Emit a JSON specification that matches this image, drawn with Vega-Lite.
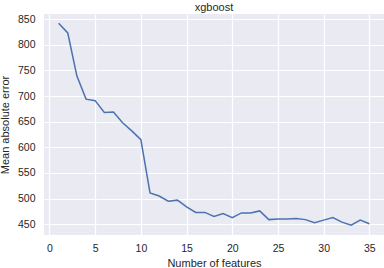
{
  "$schema": "https://vega.github.io/schema/vega-lite/v6.json",
  "width": 340,
  "height": 221,
  "autosize": {"type": "none"},
  "padding": {"left": 44, "top": 14, "right": 0, "bottom": 33},
  "background": "white",
  "title": {"text": "xgboost", "fontSize": 11, "fontWeight": "normal", "font": "Liberation Sans", "color": "#262626", "offset": 1},
  "config": {
    "view": {"fill": "#EAEAF2", "stroke": null},
    "axis": {
      "domain": false, "ticks": false, "gridColor": "white", "gridWidth": 1.2, "gridOpacity": 1,
      "labelFont": "Liberation Sans", "labelFontSize": 10.5, "labelColor": "#262626",
      "titleFont": "Liberation Sans", "titleFontSize": 11, "titleFontWeight": "normal", "titleColor": "#262626"
    }
  },
  "data": {"values": [
    {"n": 1, "mae": 842}, {"n": 2, "mae": 823}, {"n": 3, "mae": 739}, {"n": 4, "mae": 694},
    {"n": 5, "mae": 691}, {"n": 6, "mae": 668}, {"n": 7, "mae": 669}, {"n": 8, "mae": 648},
    {"n": 9, "mae": 632}, {"n": 10, "mae": 615}, {"n": 11, "mae": 511}, {"n": 12, "mae": 505},
    {"n": 13, "mae": 495}, {"n": 14, "mae": 497}, {"n": 15, "mae": 484}, {"n": 16, "mae": 473},
    {"n": 17, "mae": 473}, {"n": 18, "mae": 465}, {"n": 19, "mae": 471}, {"n": 20, "mae": 463},
    {"n": 21, "mae": 472}, {"n": 22, "mae": 472}, {"n": 23, "mae": 476}, {"n": 24, "mae": 459},
    {"n": 25, "mae": 460}, {"n": 26, "mae": 460}, {"n": 27, "mae": 461}, {"n": 28, "mae": 459},
    {"n": 29, "mae": 453}, {"n": 30, "mae": 458}, {"n": 31, "mae": 463}, {"n": 32, "mae": 454},
    {"n": 33, "mae": 448}, {"n": 34, "mae": 458}, {"n": 35, "mae": 451}
  ]},
  "mark": {"type": "line", "color": "#4C72B0", "strokeWidth": 1.5},
  "encoding": {
    "x": {
      "field": "n", "type": "quantitative", "title": "Number of features",
      "scale": {"domain": [-0.6, 36.6], "nice": false, "zero": false},
      "axis": {"values": [0, 5, 10, 15, 20, 25, 30, 35], "labelPadding": 8, "titlePadding": 4}
    },
    "y": {
      "field": "mae", "type": "quantitative", "title": "Mean absolute error",
      "scale": {"domain": [429, 860], "nice": false, "zero": false},
      "axis": {"values": [450, 500, 550, 600, 650, 700, 750, 800, 850], "labelPadding": 9, "titlePadding": 7}
    }
  }
}
